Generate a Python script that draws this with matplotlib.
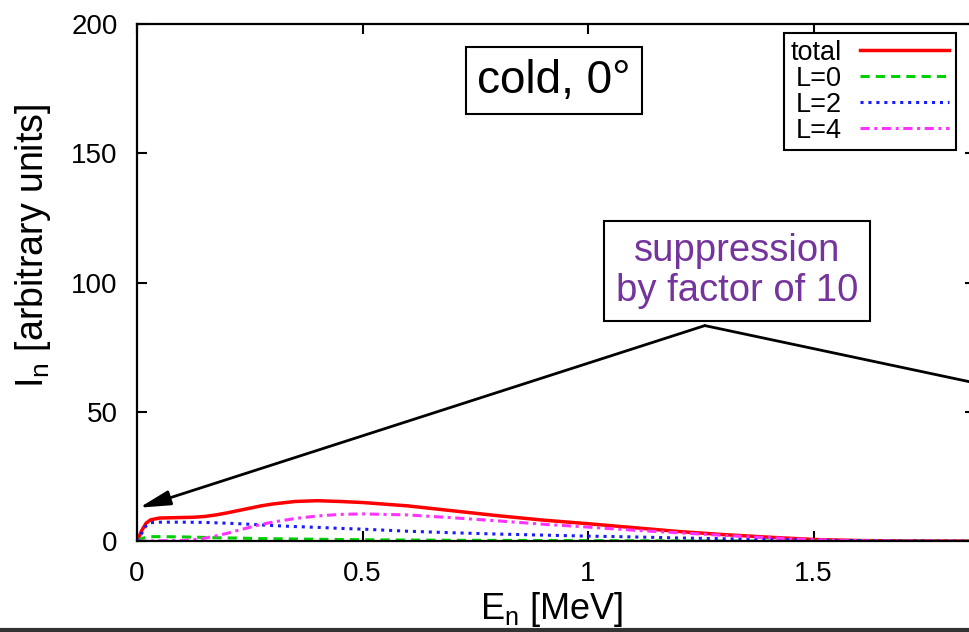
import matplotlib
matplotlib.use("Agg")
import matplotlib.pyplot as plt

plt.rcParams["font.family"] = ["Liberation Sans", "DejaVu Sans"]

# neutron energy grid [MeV]
energy = [0.0, 0.01, 0.02, 0.03, 0.05, 0.1, 0.125, 0.15, 0.175, 0.2, 0.225,
          0.25, 0.275, 0.3, 0.35, 0.4, 0.45, 0.5, 0.6, 0.7, 0.8, 0.9, 1.0,
          1.1, 1.2, 1.3, 1.4, 1.5, 1.6, 1.7, 1.8, 1.9]
total = [0.0, 4.0, 7.0, 8.3, 9.0, 9.2, 9.3, 9.6, 10.2, 11.0, 11.9, 12.8,
         13.7, 14.4, 15.4, 15.7, 15.4, 15.0, 13.7, 11.8, 9.9, 8.2, 6.8, 5.3,
         3.8, 2.6, 1.6, 0.7, 0.3, 0.15, 0.1, 0.05]
l0 = [0.0, 1.0, 1.6, 1.8, 1.8, 1.7, 1.6, 1.5, 1.4, 1.3, 1.25, 1.15, 1.05,
      1.0, 0.9, 0.8, 0.7, 0.6, 0.5, 0.4, 0.35, 0.3, 0.25, 0.2, 0.15, 0.12,
      0.1, 0.08, 0.06, 0.05, 0.04, 0.03]
l2 = [0.0, 3.0, 6.0, 7.2, 7.4, 7.4, 7.35, 7.3, 7.15, 7.0, 6.8, 6.6, 6.35,
      6.1, 5.7, 5.4, 5.0, 4.7, 3.9, 3.3, 2.8, 2.4, 2.0, 1.7, 1.3, 1.0, 0.7,
      0.4, 0.25, 0.15, 0.1, 0.05]
l4 = [0.0, 0.05, 0.1, 0.15, 0.2, 0.3, 0.6, 1.2, 2.1, 3.1, 4.3, 5.4, 6.5,
      7.4, 8.8, 9.8, 10.4, 10.6, 10.2, 9.1, 7.9, 6.6, 5.5, 4.3, 3.3, 2.3,
      1.4, 0.6, 0.25, 0.12, 0.08, 0.05]

series_labels = ["total", "L=0", "L=2", "L=4"]
x_ticks = [0, 0.5, 1, 1.5]
x_tick_labels = ["0", "0.5", "1", "1.5"]
y_ticks = [0, 50, 100, 150, 200]

fig = plt.figure(figsize=(9.69, 6.32), dpi=100)
ax = fig.add_axes([0.1414, 0.1435, 0.8648, 0.8185])

ax.plot(energy, total, color="#ff0000", lw=2.5, label=series_labels[0])
ax.plot(energy, l0, color="#00d000", lw=2.2, dashes=(3, 2),
        label=series_labels[1])
ax.plot(energy, l2, color="#1a1aff", lw=2.2, dashes=(1, 1.6),
        label=series_labels[2])
ax.plot(energy, l4, color="#ff33ff", lw=2.2, dashes=(3, 1.5, 1, 1.5),
        label=series_labels[3])

ax.set_xlim(0, 1.858)
ax.set_ylim(0, 200)
ax.set_xticks(x_ticks)
ax.set_xticklabels(x_tick_labels)
ax.set_yticks(y_ticks)
ax.tick_params(direction="in", length=7, width=1.5, top=True, right=True,
               labelsize=20, pad=14)
for sp in ax.spines.values():
    sp.set_linewidth(1.6)

ax.set_xlabel(r"$\mathregular{E_n}$ [MeV]", fontsize=26)
ax.set_ylabel(r"$\mathregular{I_n}$ [arbitrary units]", fontsize=27)
ax.xaxis.set_label_coords(0.495, -0.095)
ax.yaxis.set_label_coords(-0.10, 0.571)

leg = ax.legend(loc="upper right", bbox_to_anchor=(0.977, 0.983),
                markerfirst=False, fontsize=19.5, labelspacing=0.0,
                handlelength=3.3, handletextpad=0.65, borderpad=0.25,
                borderaxespad=0, fancybox=False, framealpha=1)
leg.get_frame().set_edgecolor("black")
leg.get_frame().set_linewidth(1.5)

ax.text(0.925, 178, "cold, 0°", fontsize=33, ha="center", va="center",
        bbox=dict(boxstyle="square,pad=0.25", fc="white", ec="black", lw=1.5))
ax.text(1.33, 104.5, "suppression\nby factor of 10", fontsize=27.5,
        color="#74349c", ha="center", va="center", linespacing=1.15,
        bbox=dict(boxstyle="square,pad=0.3", fc="white", ec="black", lw=1.5))

ax.annotate("", xy=(0.005, 13), xytext=(1.259, 83.4),
            arrowprops=dict(arrowstyle="-|>,head_length=0.75,head_width=0.18",
                            color="black", lw=2, mutation_scale=25,
                            shrinkA=0, shrinkB=0))
ax.annotate("", xy=(2.0, 56), xytext=(1.259, 83.4), annotation_clip=False,
            arrowprops=dict(arrowstyle="-", color="black", lw=2,
                            shrinkA=0, shrinkB=0))

fig.add_artist(plt.Line2D([0, 1], [0.003, 0.003], transform=fig.transFigure,
                          color="#333333", lw=3))

fig.savefig("out.png", dpi=100)
